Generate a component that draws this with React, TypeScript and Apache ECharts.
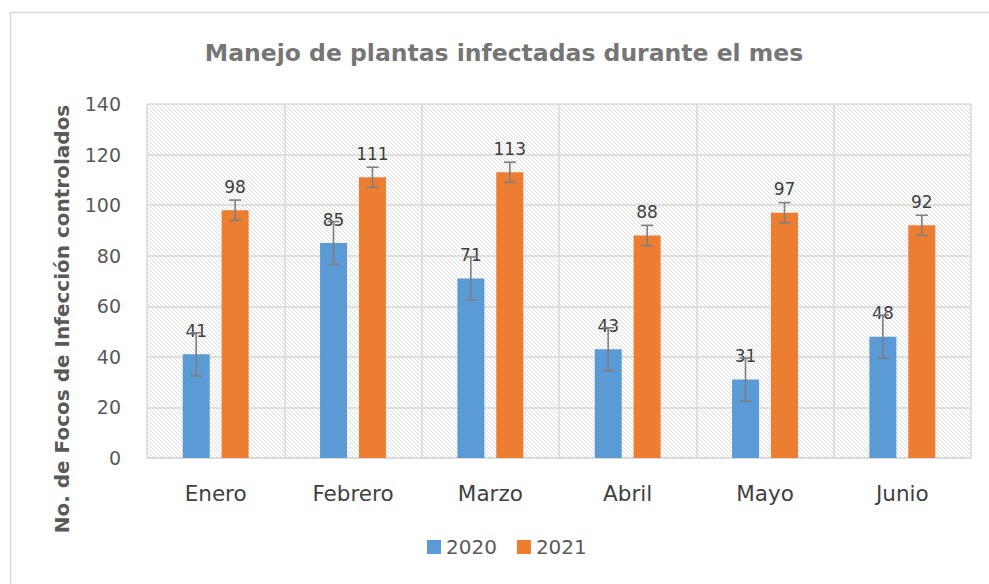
import React, { useEffect, useRef } from "react";
import * as echarts from "echarts";

const categories = ["Enero", "Febrero", "Marzo", "Abril", "Mayo", "Junio"];
const values2020 = [41, 85, 71, 43, 31, 48];
const values2021 = [98, 111, 113, 88, 97, 92];
const errors2020 = [8.5, 8.5, 8.5, 8.5, 8.5, 8.5];
const errors2021 = [4, 4, 4, 4, 4, 4];
const seriesNames = ["2020", "2021"];
const yAxisTitle = "No. de Focos de Infección controlados";

const FONT = "'DejaVu Sans', sans-serif";
const GRAY = "#595959";

const tileSvg =
  "<svg xmlns='http://www.w3.org/2000/svg' width='4' height='4' shape-rendering='crispEdges'>" +
  "<rect x='0' y='0' width='1' height='1' fill='#dcdcdc'/>" +
  "<rect x='1' y='1' width='1' height='1' fill='#dcdcdc'/>" +
  "<rect x='2' y='2' width='1' height='1' fill='#dcdcdc'/>" +
  "<rect x='3' y='3' width='1' height='1' fill='#dcdcdc'/></svg>";
const tileUrl = "data:image/svg+xml;charset=utf-8," + encodeURIComponent(tileSvg);

function errorSeries(name: string, vals: number[], errs: number[], side: number) {
  return {
    type: "custom",
    name: name + "-err",
    z: 5,
    silent: true,
    data: vals.map((v, i) => [i, v - errs[i], v + errs[i]]),
    renderItem: (params: any, api: any) => {
      const x = api.value(0);
      const lo = api.coord([x, api.value(1)]);
      const hi = api.coord([x, api.value(2)]);
      const band = api.size([1, 0])[0];
      const cx = lo[0] + side * band * 0.142;
      const hw = 6;
      const style = { stroke: "#7f7f7f", lineWidth: 1.6 };
      return {
        type: "group",
        children: [
          { type: "line", shape: { x1: cx, y1: hi[1], x2: cx, y2: lo[1] }, style },
          { type: "line", shape: { x1: cx - hw, y1: hi[1], x2: cx + hw, y2: hi[1] }, style },
          { type: "line", shape: { x1: cx - hw, y1: lo[1], x2: cx + hw, y2: lo[1] }, style },
        ],
      };
    },
  };
}

export default function App() {
  const ref = useRef<HTMLDivElement>(null);
  useEffect(() => {
    if (!ref.current) return;
    const chart = echarts.init(ref.current, null, { renderer: "svg" });
    const labelCfg = {
      show: true,
      position: "top",
      distance: 15,
      fontSize: 17,
      color: "#404040",
      fontFamily: FONT,
    };
    chart.setOption({
      animation: false,
      backgroundColor: "#ffffff",
      title: {
        text: "Manejo de plantas infectadas durante el mes",
        left: 499,
        textAlign: "center",
        top: 36,
        textStyle: { fontSize: 23.5, fontWeight: "bold", color: "#767676", fontFamily: FONT },
      },
      graphic: [
        {
          type: "rect",
          left: 8,
          top: 10,
          shape: { width: 1000, height: 600 },
          style: { fill: "none", stroke: "#d9d9d9", lineWidth: 1.5 },
          z: -10,
        },
        {
          type: "text",
          x: 62,
          y: 319,
          rotation: Math.PI / 2,
          style: {
            text: yAxisTitle,
            fontSize: 20,
            fontWeight: "bold",
            fill: GRAY,
            fontFamily: FONT,
            align: "center",
            verticalAlign: "middle",
          },
        },
      ],
      legend: {
        data: seriesNames,
        bottom: 22,
        left: 422,
        itemWidth: 14,
        itemHeight: 14,
        itemGap: 20,
        icon: "rect",
        textStyle: { fontSize: 20, color: GRAY, fontFamily: FONT },
      },
      grid: {
        left: 147,
        right: 18,
        top: 104,
        bottom: 126,
        show: true,
        borderWidth: 0,
        backgroundColor: { image: tileUrl, repeat: "repeat", imageWidth: 4, imageHeight: 4 },
      },
      xAxis: {
        type: "category",
        data: categories,
        axisTick: { show: false },
        axisLine: { lineStyle: { color: "#d9d9d9", width: 1.5 } },
        splitLine: { show: true, lineStyle: { color: "#d9d9d9", width: 1.5 } },
        axisLabel: { fontSize: 21.5, color: "#404040", margin: 24, fontFamily: FONT },
      },
      yAxis: {
        type: "value",
        min: 0,
        max: 140,
        interval: 20,
        axisLine: { show: false },
        axisTick: { show: false },
        splitLine: { lineStyle: { color: "#d9d9d9", width: 1.5 } },
        axisLabel: { fontSize: 19, color: GRAY, margin: 26, fontFamily: FONT },
      },
      series: [
        {
          type: "bar",
          name: seriesNames[0],
          data: values2020,
          barWidth: 27,
          barGap: "44%",
          itemStyle: { color: "#5b9bd5" },
          label: labelCfg,
        },
        {
          type: "bar",
          name: seriesNames[1],
          data: values2021,
          barWidth: 27,
          barGap: "44%",
          itemStyle: { color: "#ed7d31" },
          label: labelCfg,
        },
        errorSeries(seriesNames[0], values2020, errors2020, -1),
        errorSeries(seriesNames[1], values2021, errors2021, 1),
      ],
    });
    return () => chart.dispose();
  }, []);
  return (
    <div
      ref={ref}
      style={{ position: "absolute", left: 0, top: 0, width: 989, height: 584 }}
    />
  );
}
